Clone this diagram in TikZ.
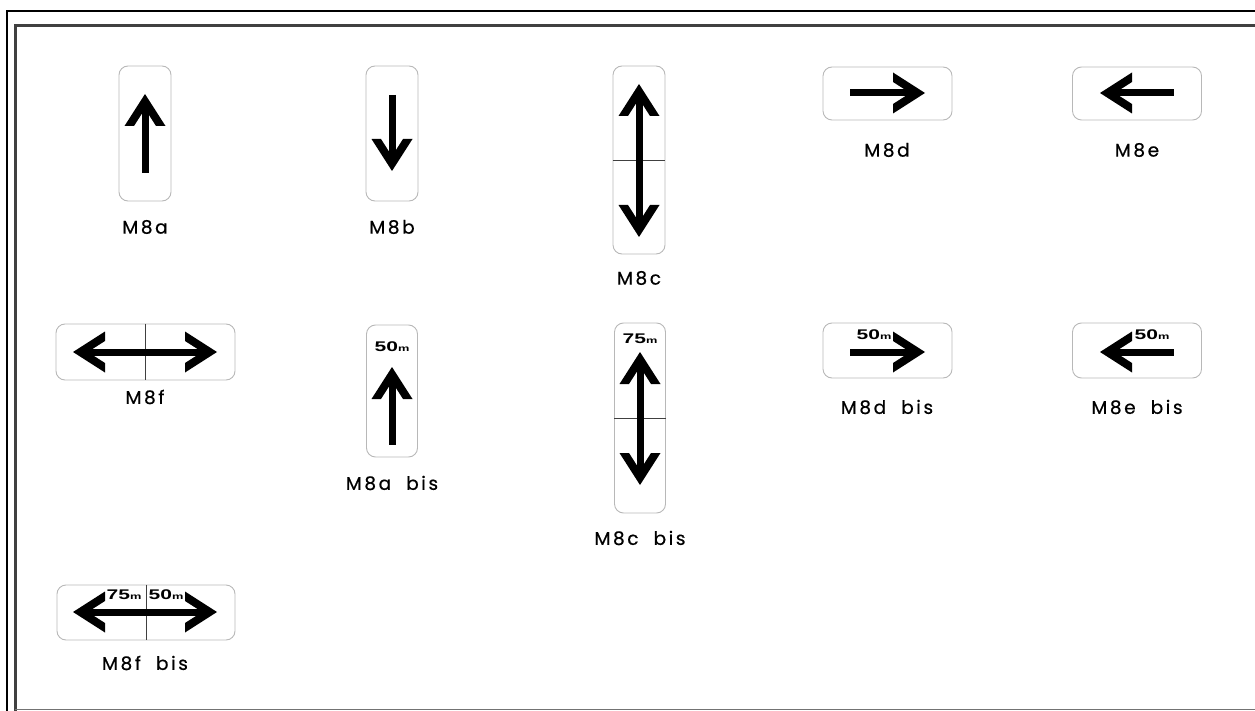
\documentclass[tikz,border=0pt]{standalone}
\usepackage{fontspec}
\newfontfamily\lblfont[LetterSpace=14,FakeBold=0.6]{Poppins}
\newfontfamily\numfont{Liberation Sans}
\newcommand{\dist}[1]{{\numfont\bfseries\scalebox{1.5}[1]{\fontsize{14}{14}\selectfont #1\fontsize{8.5}{8.5}\selectfont m}}}
\begin{document}
\begin{tikzpicture}[x=1pt,y=-1pt,
  signbox/.style={draw=black!28, line width=0.9pt, rounded corners=9pt, inner sep=0pt},
  lbl/.style={font=\lblfont\fontsize{18.5}{18.5}\selectfont, inner sep=0pt, anchor=center},
  dst/.style={inner sep=0pt, anchor=center},
  shaft/.style={line width=7pt},
  divider/.style={draw=black!75, line width=0.8pt},
  chev/.pic={\fill[black] (0,0) -- (20.5,32) -- (11,32) -- (0,14.8) -- (-11,32) -- (-20.5,32) -- cycle;}
]
\useasboundingbox (0,0) rectangle (1255,711);
% frame
\draw[line width=1.5pt] (7,711) -- (7,11) -- (1255,11);
\draw[line width=3pt, draw=black!75] (15,711) -- (15,25.5) -- (1255,25.5);
\draw[line width=1.5pt, draw=black!55] (15,709.5) -- (1255,709.5);

% ---------- row 1 ----------
\node[signbox, minimum width=52pt, minimum height=135pt] (m8a) at (145,133.5) {};
\node[lbl] (m8aL) at (145,227) {M8a};
\draw[shaft] (145,104) -- (145,173);
\pic at (145,94) {chev};

\node[signbox, minimum width=52pt, minimum height=135pt] (m8b) at (392,133.5) {};
\node[lbl] (m8bL) at (392,227) {M8b};
\draw[shaft] (392,95) -- (392,162);
\pic[rotate=180] at (392,171) {chev};

\node[signbox, minimum width=52pt, minimum height=188pt] (m8c) at (639,160) {};
\node[lbl] (m8cL) at (639,278) {M8c};
\draw[divider] (m8c.west) -- (m8c.east);
\draw[shaft] (639,94) -- (639,227);
\pic at (639,84) {chev};
\pic[rotate=180] at (639,237) {chev};

\node[signbox, minimum width=129pt, minimum height=53pt] (m8d) at (887.5,93.5) {};
\node[lbl] (m8dL) at (887,150) {M8d};
\draw[shaft] (850,93) -- (915,93);
\pic[rotate=-90] at (925,93) {chev};

\node[signbox, minimum width=129pt, minimum height=53pt] (m8e) at (1137,93.5) {};
\node[lbl] (m8eL) at (1137,150) {M8e};
\draw[shaft] (1110,93) -- (1174,93);
\pic[rotate=90] at (1100,93) {chev};

% ---------- row 2 ----------
\node[signbox, minimum width=179pt, minimum height=56pt] (m8f) at (145.5,352) {};
\node[lbl] (m8fL) at (145,397) {M8f};
\draw[divider] (m8f.north) -- (m8f.south);
\draw[shaft] (83,352) -- (207,352);
\pic[rotate=90] at (73,352) {chev};
\pic[rotate=-90] at (217,352) {chev};

\node[signbox, minimum width=51pt, minimum height=132pt] (m8abis) at (392,391) {};
\node[lbl] (m8abisL) at (392,483) {M8a\ \ bis};
\node[dst] (m8abisD) at (392,347) {\dist{50}};
\draw[shaft] (392,377) -- (392,445);
\pic at (392,367) {chev};

\node[signbox, minimum width=51pt, minimum height=190pt] (m8cbis) at (640,418) {};
\node[lbl] (m8cbisL) at (640,538) {M8c\ \ bis};
\draw[divider] (m8cbis.west) -- (m8cbis.east);
\node[dst] (m8cbisD) at (640,339) {\dist{75}};
\draw[shaft] (640,362) -- (640,475);
\pic at (640,352) {chev};
\pic[rotate=180] at (640,485) {chev};

\node[signbox, minimum width=129pt, minimum height=55pt] (m8dbis) at (887.5,350.5) {};
\node[lbl] (m8dbisL) at (887,407) {M8d\ \ bis};
\node[dst] (m8dbisD) at (874,335) {\dist{50}};
\draw[shaft] (850,352) -- (915,352);
\pic[rotate=-90] at (925,352) {chev};

\node[signbox, minimum width=129pt, minimum height=55pt] (m8ebis) at (1137,350.5) {};
\node[lbl] (m8ebisL) at (1137,407) {M8e\ \ bis};
\node[dst] (m8ebisD) at (1152,335) {\dist{50}};
\draw[shaft] (1110,352) -- (1174,352);
\pic[rotate=90] at (1100,352) {chev};

% ---------- row 3 ----------
\node[signbox, minimum width=178pt, minimum height=55pt] (m8fbis) at (146,612.5) {};
\node[lbl] (m8fbisL) at (145,663) {M8f\ \ bis};
\draw[divider] (m8fbis.north) -- (m8fbis.south);
\node[dst] (m8fbisD1) at (124,595) {\dist{75}};
\node[dst] (m8fbisD2) at (166,595) {\dist{50}};
\draw[shaft] (83,612) -- (207,612);
\pic[rotate=90] at (73,612) {chev};
\pic[rotate=-90] at (217,612) {chev};
\end{tikzpicture}
\end{document}
